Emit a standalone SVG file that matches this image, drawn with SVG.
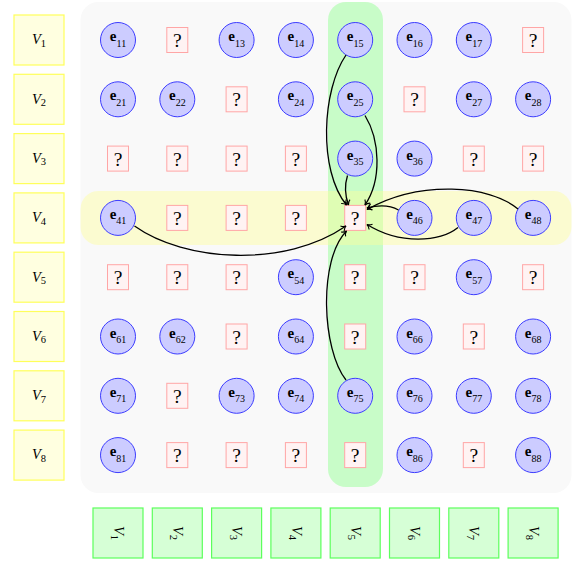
<svg xmlns="http://www.w3.org/2000/svg" width="572" height="561" viewBox="0 0 572 561">
<style>
.c circle{fill:#ccccff;stroke:#3c3cff;stroke-width:1}
.q rect{fill:#fff3f3;stroke:#ffa6a6;stroke-width:1}
text{font-family:'Liberation Serif','DejaVu Serif',serif;fill:#000;text-anchor:middle}
.e{font-size:15px;font-weight:bold}
.s{font-size:10px;font-weight:normal}
.qt{font-size:19.5px}
.v{font-size:14.5px;font-style:italic}
.vs{font-size:10.5px;font-style:normal}
.ly rect{fill:#ffffe0;stroke:#ffff5a;stroke-width:1.2}
.lg rect{fill:#d6ffd6;stroke:#5cff5c;stroke-width:1.2}
#edges path{fill:none;stroke:#000;stroke-width:1.3;marker-end:url(#tip)}
</style>
<defs>
<marker id="tip" markerUnits="userSpaceOnUse" viewBox="-6 -5 8 10" refX="0" refY="0" markerWidth="8" markerHeight="10" orient="auto">
<path d="M-4.5,-3.2 C-3.2,-1.3 -1.2,-0.3 0,0 C-1.2,0.3 -3.2,1.3 -4.5,3.2" fill="none" stroke="#000" stroke-width="1.1"/>
</marker>
</defs>
<g id="background">
<rect x="80.5" y="2" width="491" height="491" rx="18" fill="#f9f9f9"/>
<rect x="328" y="2" width="55" height="485" rx="18" fill="#c8fcc8"/>
<rect x="80.5" y="191" width="491" height="54" rx="18" fill="#ffff99" fill-opacity="0.42"/>
</g>
<g id="rowlabels" class="ly" font-family="Liberation Serif, DejaVu Serif, serif">
<g id="row1" transform="translate(39,40)"><rect x="-25" y="-25" width="50" height="50"/><text class="v" y="4.3">V<tspan class="vs" dy="2.5">1</tspan></text></g>
<g id="row2" transform="translate(39,99.3)"><rect x="-25" y="-25" width="50" height="50"/><text class="v" y="4.3">V<tspan class="vs" dy="2.5">2</tspan></text></g>
<g id="row3" transform="translate(39,158.6)"><rect x="-25" y="-25" width="50" height="50"/><text class="v" y="4.3">V<tspan class="vs" dy="2.5">3</tspan></text></g>
<g id="row4" transform="translate(39,217.9)"><rect x="-25" y="-25" width="50" height="50"/><text class="v" y="4.3">V<tspan class="vs" dy="2.5">4</tspan></text></g>
<g id="row5" transform="translate(39,277.2)"><rect x="-25" y="-25" width="50" height="50"/><text class="v" y="4.3">V<tspan class="vs" dy="2.5">5</tspan></text></g>
<g id="row6" transform="translate(39,336.5)"><rect x="-25" y="-25" width="50" height="50"/><text class="v" y="4.3">V<tspan class="vs" dy="2.5">6</tspan></text></g>
<g id="row7" transform="translate(39,395.8)"><rect x="-25" y="-25" width="50" height="50"/><text class="v" y="4.3">V<tspan class="vs" dy="2.5">7</tspan></text></g>
<g id="row8" transform="translate(39,455.1)"><rect x="-25" y="-25" width="50" height="50"/><text class="v" y="4.3">V<tspan class="vs" dy="2.5">8</tspan></text></g>
</g>
<g id="collabels" class="lg">
<g id="col1" transform="translate(118,533)"><rect x="-25" y="-25" width="50" height="50"/><text class="v" transform="rotate(90)" y="4.3">V<tspan class="vs" dy="2.5">1</tspan></text></g>
<g id="col2" transform="translate(177.3,533)"><rect x="-25" y="-25" width="50" height="50"/><text class="v" transform="rotate(90)" y="4.3">V<tspan class="vs" dy="2.5">2</tspan></text></g>
<g id="col3" transform="translate(236.6,533)"><rect x="-25" y="-25" width="50" height="50"/><text class="v" transform="rotate(90)" y="4.3">V<tspan class="vs" dy="2.5">3</tspan></text></g>
<g id="col4" transform="translate(295.9,533)"><rect x="-25" y="-25" width="50" height="50"/><text class="v" transform="rotate(90)" y="4.3">V<tspan class="vs" dy="2.5">4</tspan></text></g>
<g id="col5" transform="translate(355.2,533)"><rect x="-25" y="-25" width="50" height="50"/><text class="v" transform="rotate(90)" y="4.3">V<tspan class="vs" dy="2.5">5</tspan></text></g>
<g id="col6" transform="translate(414.5,533)"><rect x="-25" y="-25" width="50" height="50"/><text class="v" transform="rotate(90)" y="4.3">V<tspan class="vs" dy="2.5">6</tspan></text></g>
<g id="col7" transform="translate(473.8,533)"><rect x="-25" y="-25" width="50" height="50"/><text class="v" transform="rotate(90)" y="4.3">V<tspan class="vs" dy="2.5">7</tspan></text></g>
<g id="col8" transform="translate(533.1,533)"><rect x="-25" y="-25" width="50" height="50"/><text class="v" transform="rotate(90)" y="4.3">V<tspan class="vs" dy="2.5">8</tspan></text></g>
</g>
<g id="grid">
<g id="n11" class="c" transform="translate(118,40)"><circle r="17.5"/><text class="e" y="1">e<tspan class="s" dy="5.5">11</tspan></text></g>
<g id="q12" class="q" transform="translate(177.3,40)"><rect x="-10.5" y="-12.5" width="21" height="25"/><text class="qt" y="7">?</text></g>
<g id="n13" class="c" transform="translate(236.6,40)"><circle r="17.5"/><text class="e" y="1">e<tspan class="s" dy="5.5">13</tspan></text></g>
<g id="n14" class="c" transform="translate(295.9,40)"><circle r="17.5"/><text class="e" y="1">e<tspan class="s" dy="5.5">14</tspan></text></g>
<g id="n15" class="c" transform="translate(355.2,40)"><circle r="17.5"/><text class="e" y="1">e<tspan class="s" dy="5.5">15</tspan></text></g>
<g id="n16" class="c" transform="translate(414.5,40)"><circle r="17.5"/><text class="e" y="1">e<tspan class="s" dy="5.5">16</tspan></text></g>
<g id="n17" class="c" transform="translate(473.8,40)"><circle r="17.5"/><text class="e" y="1">e<tspan class="s" dy="5.5">17</tspan></text></g>
<g id="q18" class="q" transform="translate(533.1,40)"><rect x="-10.5" y="-12.5" width="21" height="25"/><text class="qt" y="7">?</text></g>
<g id="n21" class="c" transform="translate(118,99.3)"><circle r="17.5"/><text class="e" y="1">e<tspan class="s" dy="5.5">21</tspan></text></g>
<g id="n22" class="c" transform="translate(177.3,99.3)"><circle r="17.5"/><text class="e" y="1">e<tspan class="s" dy="5.5">22</tspan></text></g>
<g id="q23" class="q" transform="translate(236.6,99.3)"><rect x="-10.5" y="-12.5" width="21" height="25"/><text class="qt" y="7">?</text></g>
<g id="n24" class="c" transform="translate(295.9,99.3)"><circle r="17.5"/><text class="e" y="1">e<tspan class="s" dy="5.5">24</tspan></text></g>
<g id="n25" class="c" transform="translate(355.2,99.3)"><circle r="17.5"/><text class="e" y="1">e<tspan class="s" dy="5.5">25</tspan></text></g>
<g id="q26" class="q" transform="translate(414.5,99.3)"><rect x="-10.5" y="-12.5" width="21" height="25"/><text class="qt" y="7">?</text></g>
<g id="n27" class="c" transform="translate(473.8,99.3)"><circle r="17.5"/><text class="e" y="1">e<tspan class="s" dy="5.5">27</tspan></text></g>
<g id="n28" class="c" transform="translate(533.1,99.3)"><circle r="17.5"/><text class="e" y="1">e<tspan class="s" dy="5.5">28</tspan></text></g>
<g id="q31" class="q" transform="translate(118,158.6)"><rect x="-10.5" y="-12.5" width="21" height="25"/><text class="qt" y="7">?</text></g>
<g id="q32" class="q" transform="translate(177.3,158.6)"><rect x="-10.5" y="-12.5" width="21" height="25"/><text class="qt" y="7">?</text></g>
<g id="q33" class="q" transform="translate(236.6,158.6)"><rect x="-10.5" y="-12.5" width="21" height="25"/><text class="qt" y="7">?</text></g>
<g id="q34" class="q" transform="translate(295.9,158.6)"><rect x="-10.5" y="-12.5" width="21" height="25"/><text class="qt" y="7">?</text></g>
<g id="n35" class="c" transform="translate(355.2,158.6)"><circle r="17.5"/><text class="e" y="1">e<tspan class="s" dy="5.5">35</tspan></text></g>
<g id="n36" class="c" transform="translate(414.5,158.6)"><circle r="17.5"/><text class="e" y="1">e<tspan class="s" dy="5.5">36</tspan></text></g>
<g id="q37" class="q" transform="translate(473.8,158.6)"><rect x="-10.5" y="-12.5" width="21" height="25"/><text class="qt" y="7">?</text></g>
<g id="q38" class="q" transform="translate(533.1,158.6)"><rect x="-10.5" y="-12.5" width="21" height="25"/><text class="qt" y="7">?</text></g>
<g id="n41" class="c" transform="translate(118,217.9)"><circle r="17.5"/><text class="e" y="1">e<tspan class="s" dy="5.5">41</tspan></text></g>
<g id="q42" class="q" transform="translate(177.3,217.9)"><rect x="-10.5" y="-12.5" width="21" height="25"/><text class="qt" y="7">?</text></g>
<g id="q43" class="q" transform="translate(236.6,217.9)"><rect x="-10.5" y="-12.5" width="21" height="25"/><text class="qt" y="7">?</text></g>
<g id="q44" class="q" transform="translate(295.9,217.9)"><rect x="-10.5" y="-12.5" width="21" height="25"/><text class="qt" y="7">?</text></g>
<g id="q45" class="q" transform="translate(355.2,217.9)"><rect x="-10.5" y="-12.5" width="21" height="25"/><text class="qt" y="7">?</text></g>
<g id="n46" class="c" transform="translate(414.5,217.9)"><circle r="17.5"/><text class="e" y="1">e<tspan class="s" dy="5.5">46</tspan></text></g>
<g id="n47" class="c" transform="translate(473.8,217.9)"><circle r="17.5"/><text class="e" y="1">e<tspan class="s" dy="5.5">47</tspan></text></g>
<g id="n48" class="c" transform="translate(533.1,217.9)"><circle r="17.5"/><text class="e" y="1">e<tspan class="s" dy="5.5">48</tspan></text></g>
<g id="q51" class="q" transform="translate(118,277.2)"><rect x="-10.5" y="-12.5" width="21" height="25"/><text class="qt" y="7">?</text></g>
<g id="q52" class="q" transform="translate(177.3,277.2)"><rect x="-10.5" y="-12.5" width="21" height="25"/><text class="qt" y="7">?</text></g>
<g id="q53" class="q" transform="translate(236.6,277.2)"><rect x="-10.5" y="-12.5" width="21" height="25"/><text class="qt" y="7">?</text></g>
<g id="n54" class="c" transform="translate(295.9,277.2)"><circle r="17.5"/><text class="e" y="1">e<tspan class="s" dy="5.5">54</tspan></text></g>
<g id="q55" class="q" transform="translate(355.2,277.2)"><rect x="-10.5" y="-12.5" width="21" height="25"/><text class="qt" y="7">?</text></g>
<g id="q56" class="q" transform="translate(414.5,277.2)"><rect x="-10.5" y="-12.5" width="21" height="25"/><text class="qt" y="7">?</text></g>
<g id="n57" class="c" transform="translate(473.8,277.2)"><circle r="17.5"/><text class="e" y="1">e<tspan class="s" dy="5.5">57</tspan></text></g>
<g id="q58" class="q" transform="translate(533.1,277.2)"><rect x="-10.5" y="-12.5" width="21" height="25"/><text class="qt" y="7">?</text></g>
<g id="n61" class="c" transform="translate(118,336.5)"><circle r="17.5"/><text class="e" y="1">e<tspan class="s" dy="5.5">61</tspan></text></g>
<g id="n62" class="c" transform="translate(177.3,336.5)"><circle r="17.5"/><text class="e" y="1">e<tspan class="s" dy="5.5">62</tspan></text></g>
<g id="q63" class="q" transform="translate(236.6,336.5)"><rect x="-10.5" y="-12.5" width="21" height="25"/><text class="qt" y="7">?</text></g>
<g id="n64" class="c" transform="translate(295.9,336.5)"><circle r="17.5"/><text class="e" y="1">e<tspan class="s" dy="5.5">64</tspan></text></g>
<g id="q65" class="q" transform="translate(355.2,336.5)"><rect x="-10.5" y="-12.5" width="21" height="25"/><text class="qt" y="7">?</text></g>
<g id="n66" class="c" transform="translate(414.5,336.5)"><circle r="17.5"/><text class="e" y="1">e<tspan class="s" dy="5.5">66</tspan></text></g>
<g id="q67" class="q" transform="translate(473.8,336.5)"><rect x="-10.5" y="-12.5" width="21" height="25"/><text class="qt" y="7">?</text></g>
<g id="n68" class="c" transform="translate(533.1,336.5)"><circle r="17.5"/><text class="e" y="1">e<tspan class="s" dy="5.5">68</tspan></text></g>
<g id="n71" class="c" transform="translate(118,395.8)"><circle r="17.5"/><text class="e" y="1">e<tspan class="s" dy="5.5">71</tspan></text></g>
<g id="q72" class="q" transform="translate(177.3,395.8)"><rect x="-10.5" y="-12.5" width="21" height="25"/><text class="qt" y="7">?</text></g>
<g id="n73" class="c" transform="translate(236.6,395.8)"><circle r="17.5"/><text class="e" y="1">e<tspan class="s" dy="5.5">73</tspan></text></g>
<g id="n74" class="c" transform="translate(295.9,395.8)"><circle r="17.5"/><text class="e" y="1">e<tspan class="s" dy="5.5">74</tspan></text></g>
<g id="n75" class="c" transform="translate(355.2,395.8)"><circle r="17.5"/><text class="e" y="1">e<tspan class="s" dy="5.5">75</tspan></text></g>
<g id="n76" class="c" transform="translate(414.5,395.8)"><circle r="17.5"/><text class="e" y="1">e<tspan class="s" dy="5.5">76</tspan></text></g>
<g id="n77" class="c" transform="translate(473.8,395.8)"><circle r="17.5"/><text class="e" y="1">e<tspan class="s" dy="5.5">77</tspan></text></g>
<g id="n78" class="c" transform="translate(533.1,395.8)"><circle r="17.5"/><text class="e" y="1">e<tspan class="s" dy="5.5">78</tspan></text></g>
<g id="n81" class="c" transform="translate(118,455.1)"><circle r="17.5"/><text class="e" y="1">e<tspan class="s" dy="5.5">81</tspan></text></g>
<g id="q82" class="q" transform="translate(177.3,455.1)"><rect x="-10.5" y="-12.5" width="21" height="25"/><text class="qt" y="7">?</text></g>
<g id="q83" class="q" transform="translate(236.6,455.1)"><rect x="-10.5" y="-12.5" width="21" height="25"/><text class="qt" y="7">?</text></g>
<g id="q84" class="q" transform="translate(295.9,455.1)"><rect x="-10.5" y="-12.5" width="21" height="25"/><text class="qt" y="7">?</text></g>
<g id="q85" class="q" transform="translate(355.2,455.1)"><rect x="-10.5" y="-12.5" width="21" height="25"/><text class="qt" y="7">?</text></g>
<g id="n86" class="c" transform="translate(414.5,455.1)"><circle r="17.5"/><text class="e" y="1">e<tspan class="s" dy="5.5">86</tspan></text></g>
<g id="q87" class="q" transform="translate(473.8,455.1)"><rect x="-10.5" y="-12.5" width="21" height="25"/><text class="qt" y="7">?</text></g>
<g id="n88" class="c" transform="translate(533.1,455.1)"><circle r="17.5"/><text class="e" y="1">e<tspan class="s" dy="5.5">88</tspan></text></g>
</g>
<g id="edges">
<path d="M346,55 C322,90 318,170 346.5,205"/>
<path d="M365,115.5 C380,140 382,180 365,205"/>
<path d="M347.5,175.5 Q343,190 348.5,205"/>
<path d="M398.5,210 Q386,203 367,208"/>
<path d="M518,209 C490,185 420,180 367,209.5"/>
<path d="M458,227.5 C440,242 400,245 367,224.5"/>
<path d="M134.5,226 C185,262 285,268 346,226"/>
<path d="M346,380 C322,350 318,260 346.5,231"/>
</g>
</svg>
